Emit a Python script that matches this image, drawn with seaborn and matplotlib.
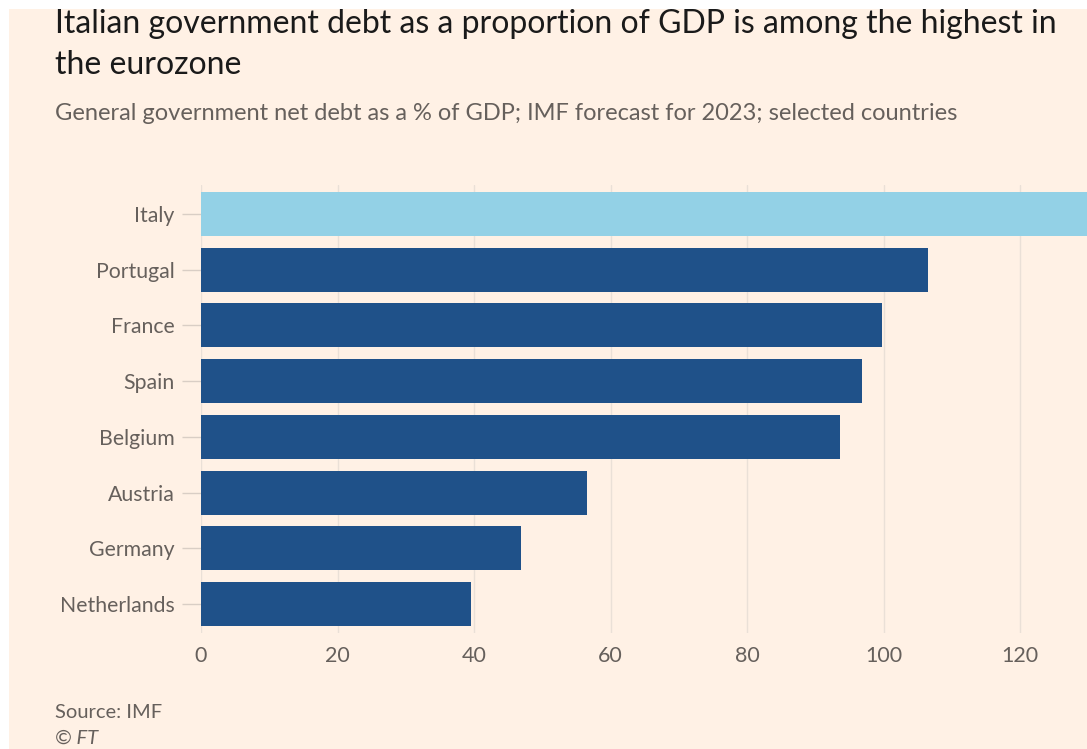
import matplotlib
matplotlib.use("Agg")
import matplotlib.pyplot as plt
import seaborn as sns
import pandas as pd
from matplotlib.patches import Rectangle

countries = ["Italy", "Portugal", "France", "Spain", "Belgium", "Austria", "Germany", "Netherlands"]
values = [134.0, 106.5, 99.8, 96.8, 93.6, 56.6, 46.9, 39.6]
xticks = [0, 20, 40, 60, 80, 100, 120]

BG = "#FFF1E5"
DARK = "#1F5189"
LIGHT = "#93D1E6"
TEXT_GREY = "#66605C"

sns.set_theme(style="white")
plt.rcParams["font.family"] = ["Lato", "DejaVu Sans"]

df = pd.DataFrame({"country": countries, "value": values})
palette = {c: (LIGHT if c == "Italy" else DARK) for c in countries}

fig = plt.figure(figsize=(10.87, 7.49), dpi=100, facecolor="white")
fig.patches.append(Rectangle((9 / 1087, 0), 1, 1 - 9 / 749, transform=fig.transFigure,
                             facecolor=BG, edgecolor="none", zorder=-10))

ax = fig.add_axes([201 / 1087, 1 - 633 / 749, 1 - 201 / 1087, (633 - 185) / 749])
ax.set_facecolor(BG)
sns.barplot(data=df, y="country", x="value", hue="country", palette=palette,
            order=countries, width=0.79, legend=False, ax=ax, saturation=1,
            edgecolor="none", zorder=3)

ax.set_xlim(0, 129.8)
ax.set_ylim(7.52, -0.52)
ax.set_xticks(xticks)
ax.set_xticklabels([str(t) for t in xticks])
ax.grid(axis="x", color="#EAE0D7", linewidth=1.0, zorder=0)
ax.grid(axis="y", visible=False)
for s in ax.spines.values():
    s.set_visible(False)
ax.set_xlabel("")
ax.set_ylabel("")
ax.tick_params(axis="x", length=0, pad=9, labelsize=15.5, labelcolor=TEXT_GREY)
ax.tick_params(axis="y", length=14, width=1, color="#D9CEC5", pad=5, labelsize=15.3,
               labelcolor=TEXT_GREY, left=True)

fig.text(55 / 1087, 1 - 9 / 749,
         "Italian government debt as a proportion of GDP is among the highest in\nthe eurozone",
         fontsize=23, color="#1A1A1A", va="top", ha="left", linespacing=1.45)
fig.text(55 / 1087, 1 - 113 / 749,
         "General government net debt as a % of GDP; IMF forecast for 2023; selected countries",
         fontsize=17, color=TEXT_GREY, va="center", ha="left")
fig.text(55 / 1087, 1 - 712 / 749, "Source: IMF", fontsize=14.5, color=TEXT_GREY,
         va="center", ha="left")
fig.text(55 / 1087, 1 - 738 / 749, "© FT", fontsize=14.5, color=TEXT_GREY,
         va="center", ha="left", style="italic")

fig.savefig("out.png", dpi=100, facecolor=fig.get_facecolor())
